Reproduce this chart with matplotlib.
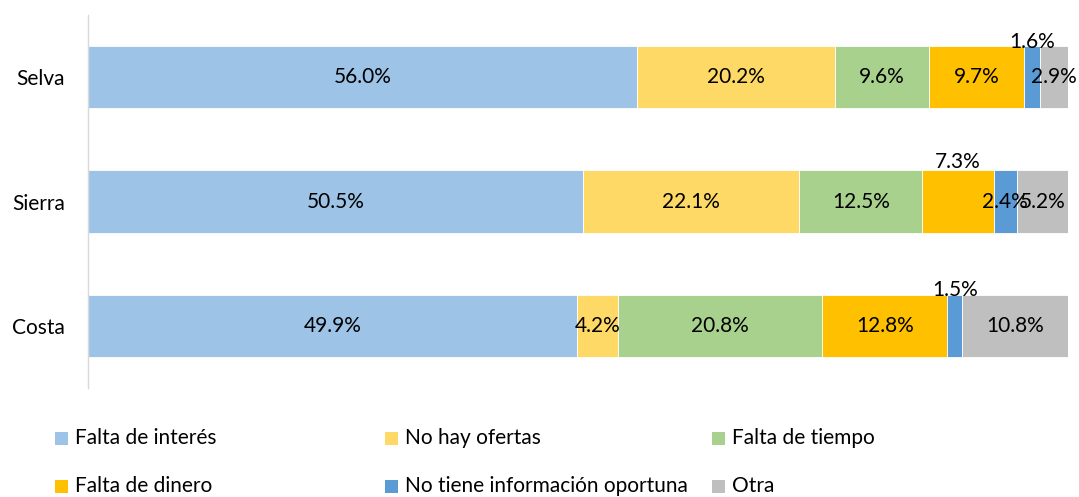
import matplotlib
matplotlib.use("Agg")
import matplotlib.pyplot as plt
from matplotlib.patches import Rectangle

plt.rcParams['font.family'] = ['Lato', 'DejaVu Sans']

categories = ["Costa", "Sierra", "Selva"]
series_names = ["Falta de interés", "No hay ofertas", "Falta de tiempo",
                "Falta de dinero", "No tiene información oportuna", "Otra"]
colors = ["#9DC3E6", "#FFD966", "#A9D18E", "#FFC000", "#5B9BD5", "#BFBFBF"]
# values per series, ordered as categories (Costa, Sierra, Selva)
falta_interes = [49.9, 50.5, 56.0]
no_hay_ofertas = [4.2, 22.1, 20.2]
falta_tiempo = [20.8, 12.5, 9.6]
falta_dinero = [12.8, 7.3, 9.7]
no_info = [1.5, 2.4, 1.6]
otra = [10.8, 5.2, 2.9]
series = [falta_interes, no_hay_ofertas, falta_tiempo, falta_dinero, no_info, otra]

# labels drawn above the bar instead of inside: (series index, category index)
above = {(4, 2): 0.285, (3, 1): 0.32, (4, 0): 0.29}

W, H = 1079, 497
fig = plt.figure(figsize=(W / 100, H / 100), dpi=100)
ax = fig.add_axes([88 / W, (H - 388) / H, (1068 - 88) / W, (388 - 15) / H])

fs = 15
left = [0.0] * len(categories)
for si, (vals, col) in enumerate(zip(series, colors)):
    ax.barh(range(len(categories)), vals, left=left, height=0.5, color=col,
            edgecolor='white', linewidth=0.6)
    for ci, v in enumerate(vals):
        cx = left[ci] + v / 2
        if (si, ci) in above:
            ax.text(cx, ci + above[(si, ci)], f"{v:.1f}%", ha='center', va='center',
                    fontsize=fs, color='black')
        else:
            ax.text(cx, ci, f"{v:.1f}%", ha='center', va='center',
                    fontsize=fs, color='black')
    left = [l + v for l, v in zip(left, vals)]

ax.set_xlim(0, 100)
ax.set_ylim(-0.5, len(categories) - 0.5)
ax.set_yticks(range(len(categories)))
ax.set_yticklabels(categories, fontsize=fs)
ax.tick_params(axis='y', length=0, pad=16.5)
ax.set_xticks([])
for s in ['top', 'right', 'bottom']:
    ax.spines[s].set_visible(False)
ax.spines['left'].set_color('#D9D9D9')
ax.spines['left'].set_linewidth(1.0)

# legend, 3 equal-width columns
col_x = [55, 385, 712]
row_y = [438, 486]
sq = 13
for i, (name, col) in enumerate(zip(series_names, colors)):
    x = col_x[i % 3]
    y = row_y[i // 3]
    fig.patches.append(Rectangle((x / W, (H - y - sq / 2) / H), sq / W, sq / H,
                                 transform=fig.transFigure, facecolor=col,
                                 edgecolor='none'))
    fig.text((x + 20) / W, (H - y) / H, name, ha='left', va='center',
             fontsize=fs, color='black')

fig.savefig("out.png", dpi=100)
